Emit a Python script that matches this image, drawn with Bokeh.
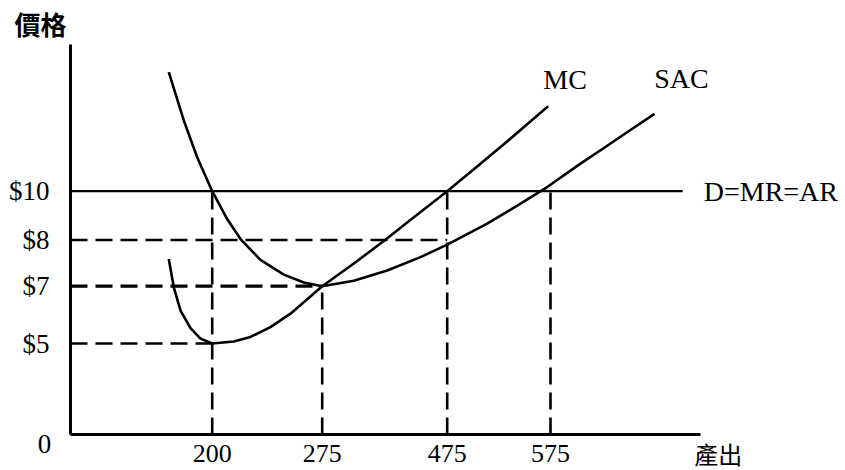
import numpy as np
from bokeh.plotting import figure
from bokeh.models import Range1d, FixedTicker, Label
from bokeh.embed import file_html
from bokeh.resources import INLINE

# ---------------- data (economic units) ----------------
QUANTITY_TICKS = [200, 275, 475, 575]
QUANTITY_LABELS = ["200", "275", "475", "575"]
PRICE_TICKS = [5, 7, 8, 10]
PRICE_LABELS = ["$5", "$7", "$8", "$10"]

MC_Q = [138.7, 145.8, 155.3, 169.4, 183.5, 200, 214.7, 226.1, 239.7, 253.4, 275,
        325.6, 373.6, 421.6, 475, 504.0, 529.8, 552.4, 572.7]
MC_P = [7.59, 6.96, 6.15, 5.54, 5.17, 5.0, 5.07, 5.23, 5.57, 6.04, 7.0,
        7.49, 7.98, 8.93, 10.0, 11.01, 11.92, 12.74, 13.48]

SAC_Q = [138.7, 159.9, 178.8, 200, 210.2, 219.3, 232.9, 248.8, 262.5, 275,
         325.6, 379.0, 432.3, 475, 513.7, 546.0, 571.8, 603.7, 626.3, 652.4, 675.7]
SAC_P = [14.88, 12.90, 11.39, 10.0, 8.86, 8.04, 7.57, 7.25, 7.08, 7.0,
         7.12, 7.34, 7.63, 7.90, 8.67, 9.49, 10.17, 11.12, 11.76, 12.51, 13.17]

DEMAND_PRICE = 10
DEMAND_Q_END = 703

H_GUIDE_P = [8, 7, 5]
H_GUIDE_Q = [475, 275, 200]
V_GUIDE_Q = [200, 275, 475, 575]
V_GUIDE_P = [10, 7, 10, 10]

AXIS_Q_END = 720
AXIS_P_END = 16

# ---------------- schematic (not-to-scale) axis layout ----------------
Q_ANCHOR = [0, 200, 275, 475, 575]
X_POS = [0, 141.7, 251.7, 376.7, 480]
P_ANCHOR = [0, 5, 7, 8, 10]
Y_POS = [0, 91, 148.3, 194.5, 243.3]


def piecewise(v, vals, pos):
    v = np.asarray(v, dtype=float)
    out = np.interp(v, vals, pos)
    hi = (pos[-1] - pos[-2]) / (vals[-1] - vals[-2])
    out = np.where(v > vals[-1], pos[-1] + (v - vals[-1]) * hi, out)
    return out


def to_x(q):
    return piecewise(q, Q_ANCHOR, X_POS)


def to_y(pr):
    return piecewise(pr, P_ANCHOR, Y_POS)


SERIF = "Liberation Serif"
CJK = "Noto Sans CJK TC"

W, H = 845, 470
p = figure(width=W, height=H, output_backend="svg", toolbar_location=None,
           x_range=Range1d(-70, W - 70), y_range=Range1d(-(H - 434), 434),
           min_border=0)
p.outline_line_color = None
p.grid.visible = False
p.background_fill_color = "white"
p.border_fill_color = "white"

# axes (placed at the origin inside the frame)
xt = [float(v) for v in to_x(QUANTITY_TICKS)]
yt = [float(v) for v in to_y(PRICE_TICKS)]

xa = p.xaxis[0]
xa.fixed_location = 0
xa.ticker = FixedTicker(ticks=xt)
xa.major_label_overrides = {t: lab for t, lab in zip(xt, QUANTITY_LABELS)}
xa.bounds = (0, float(to_x(AXIS_Q_END)))
xa.axis_line_width = 3
xa.axis_line_color = "black"
xa.major_tick_line_color = None
xa.minor_tick_line_color = None
xa.major_label_standoff = 4
xa.major_label_text_font = SERIF
xa.major_label_text_font_size = "26px"
xa.major_label_text_color = "black"

ya = p.yaxis[0]
ya.fixed_location = 0
ya.ticker = FixedTicker(ticks=yt)
ya.major_label_overrides = {t: lab for t, lab in zip(yt, PRICE_LABELS)}
ya.bounds = (0, float(to_y(AXIS_P_END)))
ya.axis_line_width = 3
ya.axis_line_color = "black"
ya.major_tick_line_color = None
ya.minor_tick_line_color = None
ya.major_label_standoff = 15
ya.major_label_text_font = SERIF
ya.major_label_text_font_size = "27px"
ya.major_label_text_color = "black"

# demand line
p.line(x=[0, float(to_x(DEMAND_Q_END))], y=[float(to_y(DEMAND_PRICE))] * 2,
       line_color="black", line_width=2.2)

# dashed guide lines
hx1 = to_x(H_GUIDE_Q)
hy = to_y(H_GUIDE_P)
p.segment(x0=np.zeros(len(hx1)), y0=hy, x1=hx1, y1=hy,
          line_color="black", line_width=[2.5, 3.2, 2.7], line_dash="17 8")
vx = to_x(V_GUIDE_Q)
vy1 = to_y(V_GUIDE_P)
p.segment(x0=vx, y0=np.zeros(len(vx)), x1=vx, y1=vy1,
          line_color="black", line_width=2.6, line_dash="17 8")

# curves
mx, my = to_x(MC_Q), to_y(MC_P)
sx, sy = to_x(SAC_Q), to_y(SAC_P)
p.line(mx, my, line_color="black", line_width=2.6)
p.line(sx, sy, line_color="black", line_width=2.6)


def lab(x, y, text, font=SERIF, size="28px", align="center", xo=0, yo=0, style="normal"):
    p.add_layout(Label(x=float(x), y=float(y), text=text, x_offset=xo, y_offset=yo,
                       text_font=font, text_font_size=size, text_align=align,
                       text_baseline="middle", text_color="black",
                       text_font_style=style))


lab(mx[-1], my[-1], "MC", xo=17, yo=27)
lab(sx[-1], sy[-1], "SAC", xo=27, yo=35)
lab(to_x(DEMAND_Q_END), to_y(DEMAND_PRICE), "D=MR=AR", align="left", xo=21)
lab(0, to_y(AXIS_P_END), "價格", font=CJK, size="26px", xo=-30, yo=21, style="bold")
lab(to_x(AXIS_Q_END), 0, "產出", font=CJK, size="24px", xo=18, yo=-19)
lab(0, 0, "0", size="27px", xo=-26, yo=-9)

open("out.html", "w").write(file_html(p, INLINE))
